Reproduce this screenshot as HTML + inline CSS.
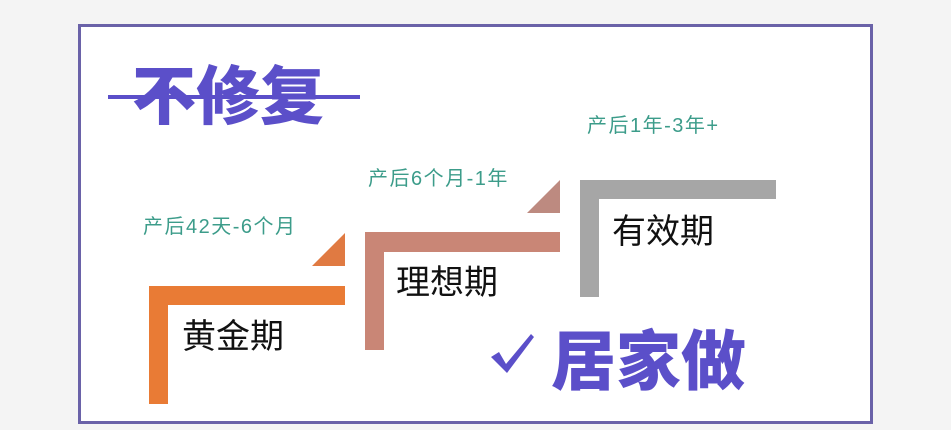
<!DOCTYPE html>
<html><head><meta charset="utf-8"><style>
body{margin:0;width:951px;height:430px;background:#f4f4f4;position:relative;overflow:hidden;font-family:"Liberation Sans","Noto Sans CJK SC",sans-serif}
.a{position:absolute}
.t{position:absolute;white-space:nowrap;line-height:1}
.lab{color:#3c9c8a;font-size:20px;letter-spacing:1.5px}
.big{color:#5b4fc9;font-weight:900;font-family:"Noto Sans CJK SC",sans-serif}
.blk{color:#111;font-size:34px;font-family:"Noto Sans CJK SC",sans-serif}
</style></head><body>
<div class="a" style="left:78px;top:24px;width:789px;height:394px;border:3px solid #6a62a8;background:#fff"></div>
<div class="t big" style="left:132px;top:60px;font-size:64px">不修复</div>
<div class="a" style="left:108px;top:95px;width:252px;height:4px;background:#5b4fc9"></div>

<div class="t lab" style="left:143px;top:217px">产后42天-6个月</div>
<div class="t lab" style="left:368px;top:169px">产后6个月-1年</div>
<div class="t lab" style="left:587px;top:116px">产后1年-3年+</div>

<svg class="a" style="left:0;top:0" width="951" height="430">
<path d="M149 286H345V305H168V404H149Z" fill="#e97b35"/>
<path d="M312 266L345 233V266Z" fill="#e07a42"/>
<path d="M365 232H560V252H384V350H365Z" fill="#c98676"/>
<path d="M527 213L560 180V213Z" fill="#bd8a80"/>
<path d="M580 180H776V199H599V297H580Z" fill="#a6a6a6"/>
<path d="M491 357L499 352L506 364L531 334L534 337L507 373Z" fill="#5b4fc9"/>
</svg>

<div class="t blk" style="left:182px;top:317px">黄金期</div>
<div class="t blk" style="left:396px;top:263px">理想期</div>
<div class="t blk" style="left:612px;top:212px">有效期</div>
<div class="t big" style="left:551px;top:324px;font-size:65px">居家做</div>
</body></html>
